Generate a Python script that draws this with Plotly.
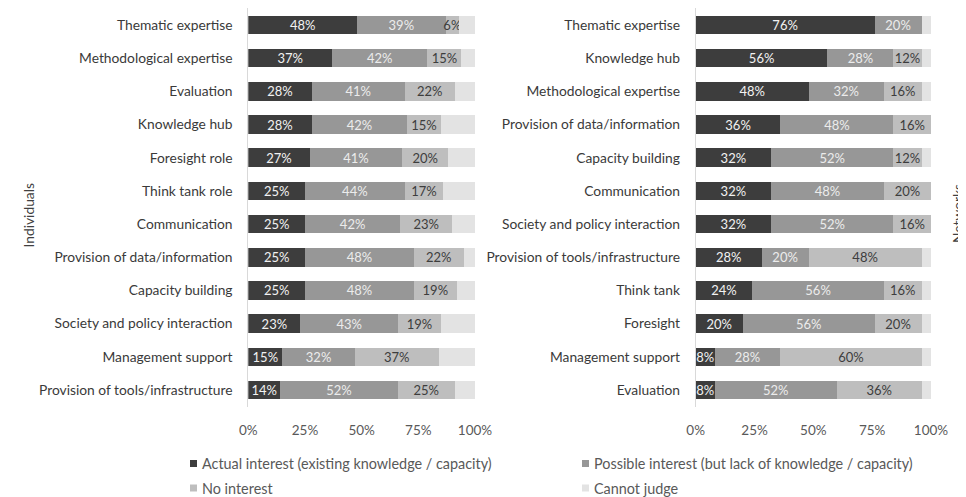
import plotly.graph_objects as go

W, H = 966, 497
OFF = 8  # page body margin offset

series_names = ["Actual interest (existing knowledge / capacity)",
                "Possible interest (but lack of knowledge / capacity)",
                "No interest", "Cannot judge"]
colors = ["#3d3d3d", "#979797", "#bebebe", "#e3e3e3"]
text_colors = ["#f2f2f2", "#ececec", "#3d3d3d", "#3d3d3d"]

ind_cats = ["Thematic expertise", "Methodological expertise", "Evaluation", "Knowledge hub",
            "Foresight role", "Think tank role", "Communication", "Provision of data/information",
            "Capacity building", "Society and policy interaction", "Management support",
            "Provision of tools/infrastructure"]
ind_actual = [48, 37, 28, 28, 27, 25, 25, 25, 25, 23, 15, 14]
ind_possible = [39, 42, 41, 42, 41, 44, 42, 48, 48, 43, 32, 52]
ind_no = [6, 15, 22, 15, 20, 17, 23, 22, 19, 19, 37, 25]
ind_cannot = [7, 6, 9, 15, 12, 14, 10, 5, 8, 15, 16, 9]

net_cats = ["Thematic expertise", "Knowledge hub", "Methodological expertise",
            "Provision of data/information", "Capacity building", "Communication",
            "Society and policy interaction", "Provision of tools/infrastructure",
            "Think tank", "Foresight", "Management support", "Evaluation"]
net_actual = [76, 56, 48, 36, 32, 32, 32, 28, 24, 20, 8, 8]
net_possible = [20, 28, 32, 48, 52, 48, 52, 20, 56, 56, 28, 52]
net_no = [0, 12, 16, 16, 12, 20, 16, 48, 16, 20, 60, 36]
net_cannot = [4, 4, 4, 0, 4, 0, 0, 4, 4, 4, 4, 4]

x_ticks = [0, 25, 50, 75, 100]
x_tick_labels = ["0%", "25%", "50%", "75%", "100%"]

FONT = "Lato"

def px(x):
    return (x - OFF) / W

def py(y):
    return 1 - (y - OFF) / H

fig = go.Figure()

def add_group(cats, groups, xa, ya):
    for i, vals in enumerate(groups):
        txt = [f"{v}%" if (v > 0 and i < 3) else "" for v in vals]
        fig.add_trace(go.Bar(
            y=cats, x=vals, orientation="h", name=series_names[i],
            marker=dict(color=colors[i], line=dict(width=0)),
            text=txt, textposition="inside", insidetextanchor="middle",
            textangle=0, constraintext="none",
            textfont=dict(family=FONT, size=13, color=text_colors[i]),
            xaxis=xa, yaxis=ya, showlegend=False, hoverinfo="skip",
        ))

add_group(ind_cats, [ind_actual, ind_possible, ind_no, ind_cannot], "x", "y")
add_group(net_cats, [net_actual, net_possible, net_no, net_cannot], "x2", "y2")

ytop, ybot = 8.4, 406.6
xcommon = dict(range=[0, 100], tickvals=x_ticks, ticktext=x_tick_labels, showgrid=False,
               zeroline=False, showline=False, ticks="outside", ticklen=11,
               tickcolor="rgba(0,0,0,0)", tickfont=dict(family=FONT, size=13.5, color="#595959"),
               fixedrange=True, automargin=False)
ycommon = dict(autorange="reversed", showgrid=False, zeroline=False, showline=True,
               linecolor="#d9d9d9", linewidth=1, ticks="", ticklabelstandoff=12,
               tickfont=dict(family=FONT, size=13.8, color="#3a3a3a"), fixedrange=True,
               automargin=False)

fig.update_layout(
    width=W, height=H, barmode="stack", bargap=0.44,
    margin=dict(l=0, r=0, t=0, b=0, pad=0, autoexpand=False),
    paper_bgcolor="white", plot_bgcolor="white",
    font=dict(family=FONT, size=13, color="#404040"),
    xaxis=dict(domain=[px(248.3), px(475)], anchor="y", **xcommon),
    yaxis=dict(domain=[py(ybot), py(ytop)], anchor="x", **ycommon),
    xaxis2=dict(domain=[px(695.7), px(931)], anchor="y2", **xcommon),
    yaxis2=dict(domain=[py(ybot), py(ytop)], anchor="x2", **ycommon),
)

# axis titles
fig.add_annotation(x=px(17), y=py(216), xref="paper", yref="paper", text="Individuals",
                   textangle=-90, showarrow=False,
                   font=dict(family=FONT, size=13.8, color="#404040"))
fig.add_annotation(x=px(957), y=py(214), xref="paper", yref="paper", text="Networks",
                   textangle=-90, showarrow=False, xanchor="center",
                   font=dict(family=FONT, size=13.8, color="#404040"))

# legend (manual)
legend_pos = [(193.5, 463.5), (585.5, 463.5), (193.5, 488), (585.5, 488)]
for i, (lx, ly) in enumerate(legend_pos):
    fig.add_shape(type="rect", xref="paper", yref="paper",
                  x0=px(lx - 3.5), x1=px(lx + 3.5), y0=py(ly + 3.5), y1=py(ly - 3.5),
                  fillcolor=colors[i], line=dict(width=0))
    fig.add_annotation(x=px(lx + 6), y=py(ly), xref="paper", yref="paper",
                       text=series_names[i], showarrow=False, xanchor="left", yanchor="middle",
                       font=dict(family=FONT, size=14.4, color="#595959"))

fig.write_html("out.html")
